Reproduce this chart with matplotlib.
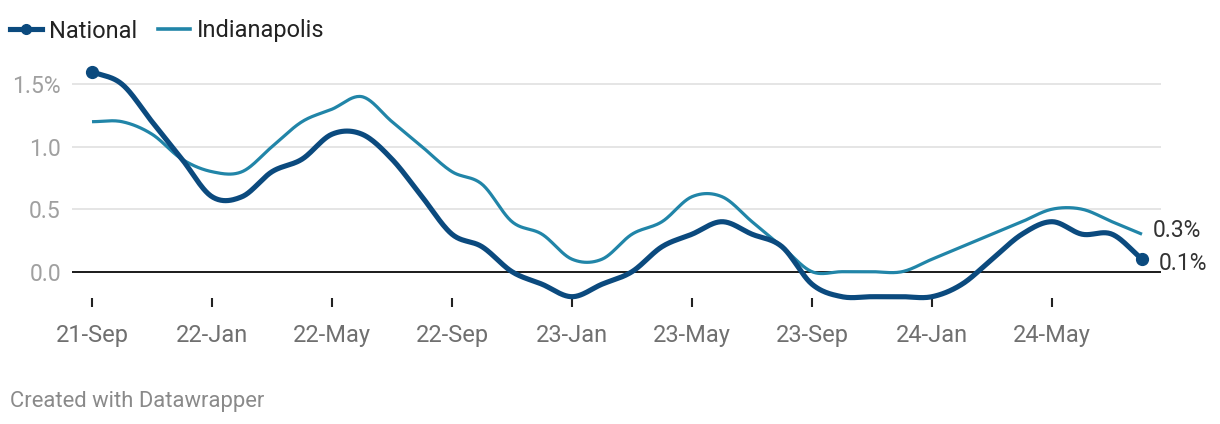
import numpy as np
import matplotlib.pyplot as plt
from matplotlib.lines import Line2D

plt.rcParams['font.family'] = ['Roboto', 'DejaVu Sans']

# monthly values, 21-Sep .. 24-Aug
months = ['21-Sep', '21-Oct', '21-Nov', '21-Dec',
          '22-Jan', '22-Feb', '22-Mar', '22-Apr', '22-May', '22-Jun', '22-Jul', '22-Aug',
          '22-Sep', '22-Oct', '22-Nov', '22-Dec',
          '23-Jan', '23-Feb', '23-Mar', '23-Apr', '23-May', '23-Jun', '23-Jul', '23-Aug',
          '23-Sep', '23-Oct', '23-Nov', '23-Dec',
          '24-Jan', '24-Feb', '24-Mar', '24-Apr', '24-May', '24-Jun', '24-Jul', '24-Aug']
national = [1.6, 1.5, 1.2, 0.9, 0.6, 0.6, 0.8, 0.9, 1.1, 1.1, 0.9, 0.6,
            0.3, 0.2, 0.0, -0.1, -0.2, -0.1, 0.0, 0.2, 0.3, 0.4, 0.3, 0.2,
            -0.1, -0.2, -0.2, -0.2, -0.2, -0.1, 0.1, 0.3, 0.4, 0.3, 0.3, 0.1]
indianapolis = [1.2, 1.2, 1.1, 0.9, 0.8, 0.8, 1.0, 1.2, 1.3, 1.4, 1.2, 1.0,
                0.8, 0.7, 0.4, 0.3, 0.1, 0.1, 0.3, 0.4, 0.6, 0.6, 0.4, 0.2,
                0.0, 0.0, 0.0, 0.0, 0.1, 0.2, 0.3, 0.4, 0.5, 0.5, 0.4, 0.3]
tick_months = ['21-Sep', '22-Jan', '22-May', '22-Sep', '23-Jan', '23-May', '23-Sep', '24-Jan', '24-May']
y_ticks = [0.0, 0.5, 1.0, 1.5]
y_labels = ['0.0', '0.5', '1.0', '1.5%']

c_nat = '#0b4a7e'
c_ind = '#2185a8'


def smooth(x, y, n=24):
    # catmull-rom style curve through the points
    x = np.asarray(x, float)
    y = np.asarray(y, float)
    yp = np.concatenate([[y[0]], y, [y[-1]]])
    t = (yp[2:] - yp[:-2]) / 2
    t[0] = (y[1] - y[0])
    t[-1] = (y[-1] - y[-2])
    xs, ys = [], []
    for i in range(len(x) - 1):
        u = np.linspace(0, 1, n, endpoint=False)
        h00 = 2 * u**3 - 3 * u**2 + 1
        h10 = u**3 - 2 * u**2 + u
        h01 = -2 * u**3 + 3 * u**2
        h11 = u**3 - u**2
        xs.append(x[i] + u * (x[i + 1] - x[i]))
        ys.append(h00 * y[i] + h10 * t[i] + h01 * y[i + 1] + h11 * t[i + 1])
    xs.append([x[-1]])
    ys.append([y[-1]])
    return np.concatenate(xs), np.concatenate(ys)


W, H = 1220, 424
fig = plt.figure(figsize=(W / 100, H / 100), dpi=100)
top_px, bot_px = 271.7 - 125 * 1.7, 271.7 + 125 * 0.28
ax = fig.add_axes([72 / W, 1 - bot_px / H, (1161 - 72) / W, (bot_px - top_px) / H])

idx = np.arange(len(months))
ax.set_xlim(-20 / 30, (1161 - 92) / 30)
ax.set_ylim(-0.28, 1.7)

for v in y_ticks[1:]:
    ax.axhline(v, color='#e3e3e3', lw=1.3, zorder=0)
ax.axhline(0, color='#1a1a1a', lw=1.4, zorder=1)

xi, yi = smooth(idx, indianapolis)
ax.plot(xi, yi, color=c_ind, lw=2.3, solid_capstyle='butt', zorder=3)
xn, yn = smooth(idx, national)
ax.plot(xn, yn, color=c_nat, lw=3.7, solid_capstyle='round', zorder=4)
ax.plot([idx[0], idx[-1]], [national[0], national[-1]], 'o', color=c_nat, ms=8.5, zorder=5)

ax.annotate(f'{indianapolis[-1]:.1f}%', (idx[-1], indianapolis[-1]), xytext=(8, 2.5),
            textcoords='offset points', ha='left', va='center', fontsize=16.5, color='#333333')
ax.annotate(f'{national[-1]:.1f}%', (idx[-1], national[-1]), xytext=(12, -3),
            textcoords='offset points', ha='left', va='center', fontsize=16.5, color='#333333')

for sp in ax.spines.values():
    sp.set_visible(False)
ax.set_xticks([months.index(m) for m in tick_months])
ax.set_xticklabels(tick_months)
ax.tick_params(axis='x', direction='in', length=6.5, width=1.5, color='#222222',
               labelsize=17, labelcolor='#707070', pad=12.5)
ax.set_yticks(y_ticks)
ax.set_yticklabels(y_labels)
ax.tick_params(axis='y', length=0, labelsize=16.5, labelcolor='#a0a0a0', pad=8)

handles = [Line2D([], [], color=c_nat, lw=3.7, marker='o', ms=7),
           Line2D([], [], color=c_ind, lw=2.6)]
fig.legend(handles, ['National', 'Indianapolis'], loc='center left',
           bbox_to_anchor=(10 / W, 1 - 31 / H), ncol=2, frameon=False,
           fontsize=17, handlelength=1.35, handletextpad=0.3, columnspacing=0.9,
           borderpad=0, borderaxespad=0, labelcolor='#222222', numpoints=1)

fig.text(10 / W, 1 - 402 / H, 'Created with Datawrapper', fontsize=15.8,
         color='#8a8a8a', ha='left', va='center')

fig.savefig('out.png', dpi=100)
